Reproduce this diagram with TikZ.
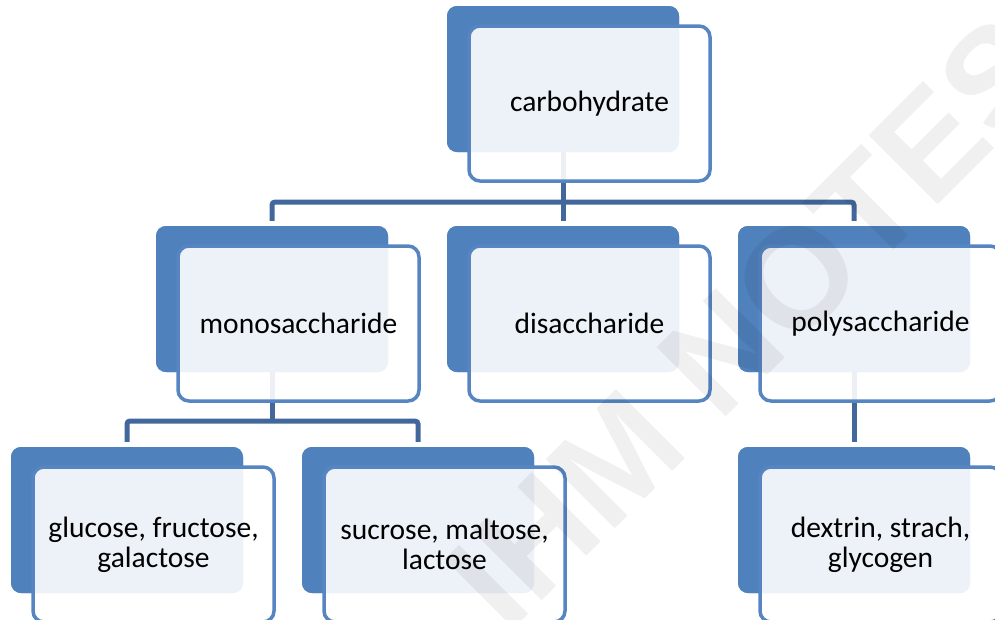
\documentclass[tikz,border=0pt]{standalone}
\usepackage{fontspec}
\setmainfont{Carlito}
\newfontfamily\wmfont{Liberation Sans}
\definecolor{backblue}{HTML}{4F81BD}
\definecolor{edgeblue}{HTML}{5685C2}
\definecolor{connblue}{HTML}{42689B}
\tikzset{
  backbox/.style={rectangle, rounded corners=10pt, fill=backblue, draw=none,
    minimum width=232pt, minimum height=146pt, inner sep=0pt},
  frontbox/.style={rectangle, rounded corners=11pt, fill=white, fill opacity=0.9,
    text opacity=1, draw=edgeblue, draw opacity=1, line width=3.5pt,
    minimum width=241pt, minimum height=155pt, inner sep=0pt, align=center,
    font=\fontsize{29.5}{30}\selectfont, text=black},
  conn/.style={draw=connblue, line width=5pt, rounded corners=3pt},
  fshift/.style={shift={(26.5,24.5)}}
}
\begin{document}
\begin{tikzpicture}[x=1pt,y=-1pt]
\useasboundingbox (0,0) rectangle (995,619);
\clip (0,0) rectangle (995,619);
% back boxes
\node[backbox] (carbB) at (563,79) {};
\node[backbox] (monoB) at (272,299) {};
\node[backbox] (disB) at (563,299) {};
\node[backbox] (polyB) at (854,299) {};
\node[backbox] (gluB) at (127,520) {};
\node[backbox] (sucB) at (418,520) {};
\node[backbox] (dexB) at (854,520) {};
% connectors
\coordinate (bar1) at (563,202);
\coordinate (bar2) at (272,421);
\draw[conn] (carbB.south) -- ([yshift=5pt]disB.north);
\draw[conn] ([yshift=5pt]monoB.north) |- (bar1) -| ([yshift=5pt]polyB.north);
\draw[conn] (monoB.south) -- (bar2);
\draw[conn] ([yshift=5pt]gluB.north) |- (bar2) -| ([yshift=5pt]sucB.north);
\draw[conn] (polyB.south) -- ([yshift=5pt]dexB.north);
% redraw back boxes above connectors
\node[backbox] at (carbB.center) {};
\node[backbox] at (monoB.center) {};
\node[backbox] at (disB.center) {};
\node[backbox] at (polyB.center) {};
\node[backbox] at (gluB.center) {};
\node[backbox] at (sucB.center) {};
\node[backbox] at (dexB.center) {};
% front boxes
\node[frontbox] (carb) at ([fshift]carbB.center) {carbohydrate};
\node[frontbox] (mono) at ([fshift]monoB.center) {monosaccharide};
\node[frontbox] (dis) at ([fshift]disB.center) {disaccharide};
\node[frontbox] (poly) at ([fshift]polyB.center) {polysaccharide};
\node[frontbox] (glu) at ([fshift]gluB.center) {glucose, fructose,\\galactose};
\node[frontbox] (suc) at ([fshift]sucB.center) {sucrose, maltose,\\lactose};
\node[frontbox] (dex) at ([fshift]dexB.center) {dextrin, strach,\\glycogen};
% watermark
\node[rotate=45, text=black, text opacity=0.06, font=\wmfont\bfseries\fontsize{142}{142}\selectfont] (wm) at (752,322) {IHM NOTES};
\end{tikzpicture}
\end{document}
